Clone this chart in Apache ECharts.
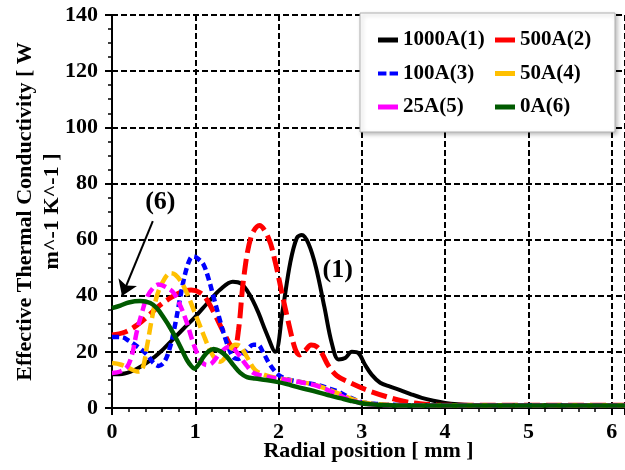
<!DOCTYPE html>
<html>
<head>
<meta charset="utf-8">
<script src="https://cdn.jsdelivr.net/npm/echarts@6/dist/echarts.min.js"></script>
<style>html,body{margin:0;padding:0;background:#fff}#c{width:625px;height:470px}</style>
</head>
<body>
<div id="c"></div>
<script>
const seriesNames = ['1000A(1)', '500A(2)', '100A(3)', '50A(4)', '25A(5)', '0A(6)'];
const xTicks = [0, 1, 2, 3, 4, 5, 6];
const yTicks = [0, 20, 40, 60, 80, 100, 120, 140];

const s1000A = [[0,12],[0.15,12.3],[0.3,14],[0.45,16.8],[0.6,20.5],[0.75,25],[0.9,29.5],[1.0,32.5],[1.15,37.5],[1.3,42.2],[1.45,45],[1.55,44.3],[1.65,40.5],[1.75,34.5],[1.85,27],[1.96,20],[2.05,35],[2.14,51.7],[2.22,60.6],[2.28,61.6],[2.36,58.5],[2.45,50],[2.55,36],[2.64,23],[2.72,17.3],[2.8,17.8],[2.88,20],[2.96,19.5],[3.04,15.3],[3.12,11.8],[3.22,9],[3.34,7.6],[3.46,6.4],[3.6,4.8],[3.72,3.6],[3.86,2.6],[4.0,1.8],[4.15,1.3],[4.3,1.05],[4.6,1],[5.2,1],[6.16,1]];
const s500A = [[0,26],[0.15,27],[0.3,29.5],[0.42,32.4],[0.55,36],[0.7,39.2],[0.85,41.5],[0.95,42],[1.06,41],[1.14,38.5],[1.24,33],[1.34,27],[1.42,22.5],[1.47,21.5],[1.52,28],[1.58,46],[1.67,61],[1.77,65],[1.88,60.5],[1.96,52],[2.04,41],[2.12,30.3],[2.2,21],[2.25,18.9],[2.32,20.5],[2.39,22.4],[2.46,21.8],[2.52,19.5],[2.6,15],[2.7,11.5],[2.86,9],[3.06,6.4],[3.3,4],[3.5,2.4],[3.7,1.5],[3.9,1.1],[4.2,1],[6.16,1]];
const s100A = [[0,25.3],[0.12,25.2],[0.2,24],[0.3,22],[0.42,19],[0.5,16],[0.56,15],[0.63,16.5],[0.7,22],[0.76,30],[0.82,39.5],[0.88,48],[0.94,53.3],[0.98,54],[1.04,53],[1.1,51],[1.16,46],[1.22,39.5],[1.28,33],[1.34,26.7],[1.4,21.5],[1.46,18],[1.52,17.5],[1.6,20],[1.7,22.5],[1.75,22.5],[1.82,19.5],[1.9,15.3],[2.0,11.8],[2.1,10.3],[2.26,9.3],[2.45,8.3],[2.6,7],[2.72,5.8],[2.85,3.8],[3.0,2.1],[3.15,1.5],[3.3,1.2],[3.6,1],[6.16,1]];
const s50A = [[0,16],[0.1,15.5],[0.2,14.3],[0.3,13],[0.36,13.5],[0.42,22],[0.48,32],[0.54,40],[0.62,45.5],[0.7,48],[0.76,47.5],[0.84,44.5],[0.92,39.5],[0.98,35],[1.04,30.5],[1.1,26],[1.17,21],[1.24,17.5],[1.3,16.5],[1.36,18],[1.42,21],[1.48,22.5],[1.54,22],[1.62,18.2],[1.72,13.5],[1.86,11.5],[2.0,10.6],[2.2,9.6],[2.4,8.5],[2.6,6.6],[2.75,4.8],[2.9,3],[3.05,1.8],[3.2,1.3],[3.5,1],[6.16,1]];
const s25A = [[0,12.5],[0.1,13],[0.18,14.6],[0.24,19],[0.3,27.5],[0.36,34],[0.42,39.5],[0.5,43],[0.56,44],[0.64,43.2],[0.74,41],[0.82,36.5],[0.9,30.3],[0.96,24.5],[1.02,19.6],[1.08,16.3],[1.14,15.3],[1.2,16],[1.3,19.6],[1.4,21.7],[1.47,20.8],[1.54,18.2],[1.62,15],[1.7,12.5],[1.85,11.2],[2.0,10.5],[2.2,9.5],[2.45,8],[2.6,6.3],[2.75,4.3],[2.9,2.5],[3.05,1.5],[3.2,1.1],[3.5,1],[6.16,1]];
const s0A = [[0,35.6],[0.1,36.5],[0.2,37.6],[0.34,38.1],[0.46,37.4],[0.54,35.5],[0.62,32.2],[0.7,28.5],[0.78,24.2],[0.85,20],[0.9,17.1],[0.95,15],[0.99,14],[1.04,15.5],[1.1,18.3],[1.16,20.2],[1.22,21],[1.3,20.2],[1.38,18.2],[1.46,15.2],[1.54,12.5],[1.62,11],[1.72,10.5],[1.85,10],[1.98,9.3],[2.1,8.5],[2.22,7.5],[2.36,6.5],[2.5,5.4],[2.62,4.4],[2.74,3.5],[2.86,2.6],[2.98,1.8],[3.1,1.3],[3.3,1],[3.6,0.9],[6.16,0.9]];

const label6 = {text: '(6)', at: [0.58, 73.4]};
const label1 = {text: '(1)', at: [2.71, 49.2]};
const arrow6 = {from: [0.49, 66.6], to: [0.12, 39.9]};

const FONT = 'Liberation Serif';
const colors = ['#000000', '#ff0000', '#0000ff', '#ffc000', '#ff00ff', '#005a00'];
const dashes = ['solid', [16, 6], [7, 4], [12, 5], [10, 5], 'solid'];
const widths = [4, 5, 4.5, 4.5, 4.5, 4.5];
const allData = [s1000A, s500A, s100A, s50A, s25A, s0A];

const series = allData.map((d, i) => ({
  name: seriesNames[i],
  type: 'line',
  data: d,
  smooth: 0.35,
  symbol: 'none',
  showSymbol: false,
  color: colors[i],
  lineStyle: {color: colors[i], width: widths[i], type: dashes[i]},
  z: 2 + i * 0.01
}));

const markLabel = (l) => ({
  coord: l.at, value: l.text, symbol: 'circle', symbolSize: 1,
  itemStyle: {color: 'rgba(0,0,0,0)'},
  label: {show: true, position: 'inside', formatter: l.text, color: '#000', fontSize: 26, fontWeight: 'bold', fontFamily: FONT}
});

series[5].markLine = {
  silent: true, animation: false,
  symbol: ['none', 'arrow'], symbolSize: 15,
  lineStyle: {color: '#000', width: 2, type: 'solid'},
  itemStyle: {color: '#000'},
  label: {show: false},
  data: [[{coord: arrow6.from}, {coord: arrow6.to}]]
};
series[5].markPoint = {silent: true, animation: false, data: [markLabel(label6)]};
series[0].markPoint = {silent: true, animation: false, data: [markLabel(label1)]};

const legendText = {color: '#000', fontSize: 21, fontWeight: 'bold', fontFamily: FONT, lineHeight: 22};
const blueIcon = 'path://M0,0h8v4h-8zM11,0h8v4h-8z';
const mkLegend = (names, left) => ({
  orient: 'vertical', left: left, top: 29, padding: 0, itemGap: 11.5,
  itemWidth: 20, itemHeight: 5, z: 5,
  textStyle: legendText,
  data: names.map(n => ({name: n, icon: n === '100A(3)' ? blueIcon : 'rect', itemStyle: {borderWidth: 0}}))
});

const chart = echarts.init(document.getElementById('c'), null, {renderer: 'canvas'});
chart.setOption({
  animation: false,
  backgroundColor: '#fff',
  grid: {left: 112, right: 0, top: 15, bottom: 62, containLabel: false, outerBoundsMode: 'none'},
  legend: [mkLegend([seriesNames[0], seriesNames[2], seriesNames[4]], 378), mkLegend([seriesNames[1], seriesNames[3], seriesNames[5]], 495)],
  graphic: {elements: [{
    type: 'rect', z: 3, silent: true,
    shape: {x: 360, y: 13, width: 255, height: 119},
    style: {fill: '#fff', stroke: '#b0b0b0', lineWidth: 1, shadowBlur: 4, shadowColor: 'rgba(0,0,0,0.25)', shadowOffsetX: 2, shadowOffsetY: 2}
  }]},
  xAxis: {
    type: 'value', min: xTicks[0], max: 6.16, interval: 1, offset: 4,
    name: 'Radial position [ mm ]', nameLocation: 'middle', nameGap: 28, nameMoveOverlap: false,
    nameTextStyle: {color: '#000', fontSize: 22, fontWeight: 'bold', fontFamily: FONT},
    axisLine: {show: true, lineStyle: {color: '#000', width: 2}},
    axisTick: {show: true, length: 7, lineStyle: {color: '#000', width: 2}},
    minorTick: {show: true, splitNumber: 5, length: 4, lineStyle: {color: '#000', width: 1.5}},
    axisLabel: {margin: 9, color: '#000', fontSize: 22, fontWeight: 'bold', fontFamily: FONT,
      formatter: v => xTicks.indexOf(v) >= 0 ? String(v) : ''},
    splitLine: {show: true, lineStyle: {color: '#000', width: 2, type: [6, 3]}}
  },
  yAxis: {
    type: 'value', min: yTicks[0], max: yTicks[yTicks.length - 1], interval: 20, offset: 4,
    name: 'Effective Thermal Conductivity [ W\nm^-1 K^-1 ]', nameLocation: 'middle', nameGap: 42, nameMoveOverlap: false,
    nameTextStyle: {color: '#000', fontSize: 22, fontWeight: 'bold', fontFamily: FONT, lineHeight: 27},
    axisLine: {show: true, lineStyle: {color: '#000', width: 2}},
    axisTick: {show: true, length: 7, lineStyle: {color: '#000', width: 2}},
    minorTick: {show: true, splitNumber: 4, length: 4, lineStyle: {color: '#000', width: 1.5}},
    axisLabel: {margin: 10, color: '#000', fontSize: 22, fontWeight: 'bold', fontFamily: FONT,
      formatter: v => yTicks.indexOf(v) >= 0 ? String(v) : ''},
    splitLine: {show: true, lineStyle: {color: '#000', width: 2, type: [6, 3]}}
  },
  series: series
});
</script>
</body>
</html>
